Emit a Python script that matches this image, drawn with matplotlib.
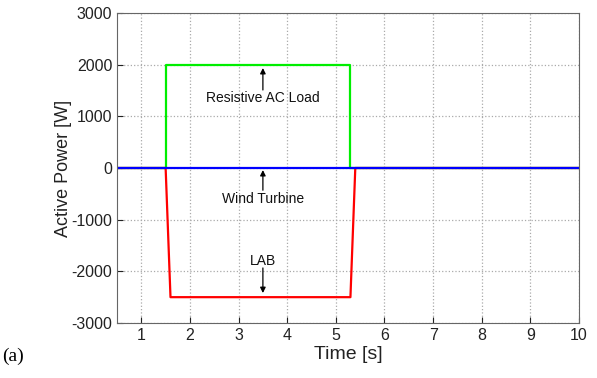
import matplotlib
matplotlib.use("Agg")
import matplotlib.pyplot as plt

plt.rcParams['font.family'] = ['Liberation Sans', 'DejaVu Sans']
plt.rcParams['axes.unicode_minus'] = False

# Data
t_load = [0.5, 1.5, 1.5, 5.3, 5.3, 10.0]
p_load = [0, 0, 2000, 2000, 0, 0]
t_lab = [0.5, 1.5, 1.6, 5.3, 5.4, 10.0]
p_lab = [0, 0, -2500, -2500, 0, 0]
t_wind = [0.5, 10.0]
p_wind = [0, 0]

xticks = [1, 2, 3, 4, 5, 6, 7, 8, 9, 10]
yticks = [-3000, -2000, -1000, 0, 1000, 2000, 3000]

fig = plt.figure(figsize=(5.97, 3.78), dpi=100)
ax = fig.add_axes([117/597, 1-323/378, (579-117)/597, (323-13)/378])

ax.plot(t_load, p_load, color='#00ee00', lw=1.6)
ax.plot(t_lab, p_lab, color='#ff0000', lw=1.6)
ax.plot(t_wind, p_wind, color='#0000ff', lw=1.6)

ax.set_xlim(0.5, 10)
ax.set_ylim(-3000, 3000)
ax.set_xticks(xticks)
ax.set_yticks(yticks)
ax.grid(True, linestyle=':', color='#aaaaaa', lw=0.9)
ax.tick_params(direction='in', labelsize=11.5, colors='#222222', length=4)
for s in ax.spines.values():
    s.set_color('#666666')

ax.set_xlabel('Time [s]', fontsize=14, color='#222222', labelpad=2)
ax.set_ylabel('Active Power [W]', fontsize=13, color='#222222')
ax.yaxis.set_label_coords((72 - 117) / 462, 0.5)

ann = dict(fontsize=10, ha='center', va='center', color='#111111')
arr = dict(arrowstyle='-|>', color='black', lw=0.9, mutation_scale=8,
           shrinkA=0, shrinkB=0)
ax.annotate('', xy=(3.5, 1935), xytext=(3.5, 1510), arrowprops=arr)
ax.text(3.5, 1355, 'Resistive AC Load', **ann)
ax.annotate('', xy=(3.5, -40), xytext=(3.5, -430), arrowprops=arr)
ax.text(3.5, -600, 'Wind Turbine', **ann)
ax.annotate('', xy=(3.5, -2420), xytext=(3.5, -1935), arrowprops=arr)
ax.text(3.5, -1800, 'LAB', **ann)

fig.text(2/597, 1-356/378, '(a)', fontsize=14, family='Liberation Serif', va='center', ha='left')

fig.savefig('out.png', dpi=100)
